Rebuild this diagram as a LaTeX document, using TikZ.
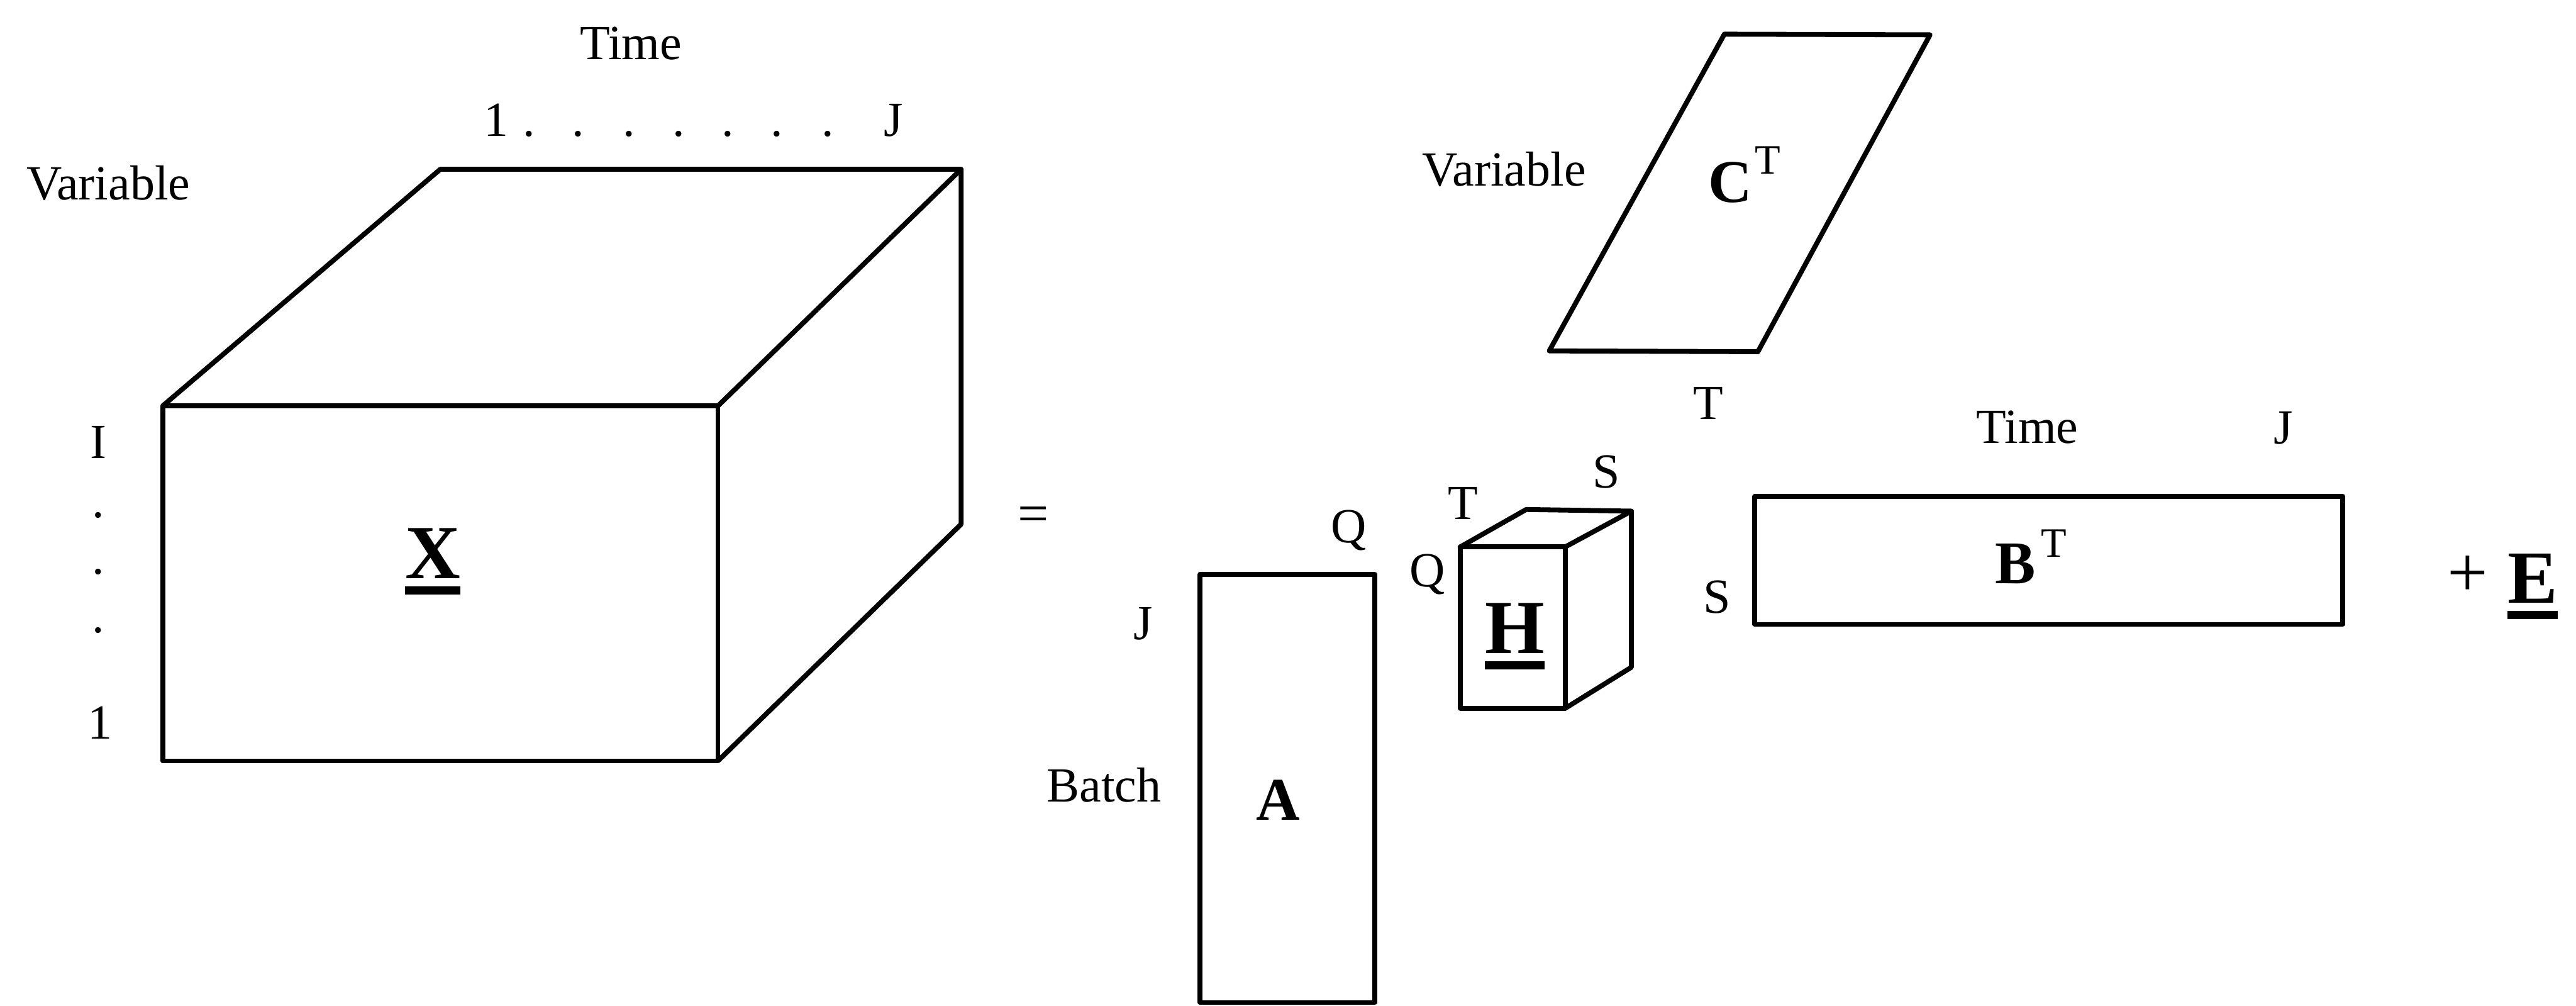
\documentclass[tikz,border=0pt]{standalone}
\usepackage{fontspec}
\setmainfont{Liberation Serif}
\newcommand{\thul}[1]{\setbox0=\hbox{#1}\leavevmode\rlap{\rule[-0.21em]{\wd0}{0.11em}}\box0}
\tikzset{
  edge/.style={line width=1.7pt, line join=round},
  lbl/.style={inner sep=0pt, font=\fontsize{17}{20}\selectfont, anchor=base},
  bigb/.style={inner sep=0pt, font=\fontsize{26.5}{30}\selectfont\bfseries, anchor=base},
  midb/.style={inner sep=0pt, font=\fontsize{21}{24}\selectfont\bfseries, anchor=base},
  sym/.style={inner sep=0pt, font=\fontsize{25}{28}\selectfont},
}
\begin{document}
\begin{tikzpicture}[x=0.02cm,y=-0.02cm]
\useasboundingbox (0,0) rectangle (1568,612);

% ---------- cube X ----------
\coordinate (xa) at (99,247);
\coordinate (xb) at (437,247);
\coordinate (xc) at (437,463);
\coordinate (xd) at (99,463);
\coordinate (xe) at (268,103);
\coordinate (xf) at (585,103);
\coordinate (xg) at (585,319);
\draw[edge] (xa) -- (xb) -- (xc) -- (xd) -- cycle;
\draw[edge] (xa) -- (xe) -- (xf) -- (xb);
\draw[edge] (xf) -- (xg) -- (xc);
\node[bigb] (lX) at (263.4,352) {\thul{X}};

\node[lbl] (timeX) at (384,36.3) {Time};
\node[lbl] (j1) at (302,83) {1};
\foreach \i/\xx in {1/322,2/352,3/383,4/413,5/443,6/473,7/504}
  \node[lbl] (jd\i) at (\xx,83) {.};
\node[lbl] (jJ) at (544,83) {J};
\node[lbl] (varX) at (66,121.5) {Variable};
\node[lbl] (iI) at (60,279) {I};
\node[lbl] (id1) at (60,315) {.};
\node[lbl] (id2) at (60,349.5) {.};
\node[lbl] (id3) at (60,385) {.};
\node[lbl] (i1) at (61,449.6) {1};

% ---------- equals ----------
\node[sym, font=\fontsize{19}{22}\selectfont] (eq) at (629,316) {=};

% ---------- A ----------
\coordinate (aa) at (730.4,349.6);
\coordinate (ab) at (836.8,610);
\draw[edge] (aa) rectangle (ab);
\node[midb] (lA) at (778,499) {A};
\node[lbl] (aQ) at (821,330) {Q};
\node[lbl] (aJ) at (695.7,389) {J};
\node[lbl] (batch) at (672,488) {Batch};

% ---------- cube H ----------
\coordinate (ha) at (888.8,332.8);
\coordinate (hb) at (952.7,332.8);
\coordinate (hc) at (952.7,431);
\coordinate (hd) at (888.8,431);
\coordinate (he) at (929,310);
\coordinate (hf) at (993,311);
\coordinate (hg) at (993,406);
\draw[edge] (ha) -- (hb) -- (hc) -- (hd) -- cycle;
\draw[edge] (ha) -- (he) -- (hf) -- (hb);
\draw[edge] (hf) -- (hg) -- (hc);
\node[bigb] (lH) at (922,397.7) {\thul{H}};
\node[lbl] (hT) at (890.5,316) {T};
\node[lbl] (hS) at (977.7,297) {S};
\node[lbl] (hQ) at (869,357) {Q};

% ---------- C^T ----------
\coordinate (ca) at (1049.6,20.8);
\coordinate (cb) at (1174.8,21.2);
\coordinate (cc) at (1070,214);
\coordinate (cd) at (943,213.5);
\draw[edge] (ca) -- (cb) -- (cc) -- (cd) -- cycle;
\node[midb, anchor=base west] (lC) at (1039.5,123) {C\hspace{1pt}\raisebox{9.7pt}{\mdseries\fontsize{14.5}{16}\selectfont T}};
\node[lbl] (varC) at (915.6,113) {Variable};
\node[lbl] (cT) at (1040,255) {T};

% ---------- B^T ----------
\coordinate (ba) at (1068,302.1);
\coordinate (bb) at (1426,379.9);
\draw[edge] (ba) rectangle (bb);
\node[midb, anchor=base west] (lB) at (1214,355) {B\hspace{2pt}\raisebox{9.1pt}{\mdseries\fontsize{14.5}{16}\selectfont T}};
\node[lbl] (bS) at (1045,373) {S};
\node[lbl] (timeB) at (1234,269.8) {Time};
\node[lbl] (bJ) at (1390,270) {J};

% ---------- + E ----------
\node[sym] (plus) at (1502,350.5) {+};
\node[inner sep=0pt, font=\fontsize{26}{30}\selectfont\bfseries, anchor=base] (lE) at (1541.5,367) {\thul{E}};
\end{tikzpicture}
\end{document}
